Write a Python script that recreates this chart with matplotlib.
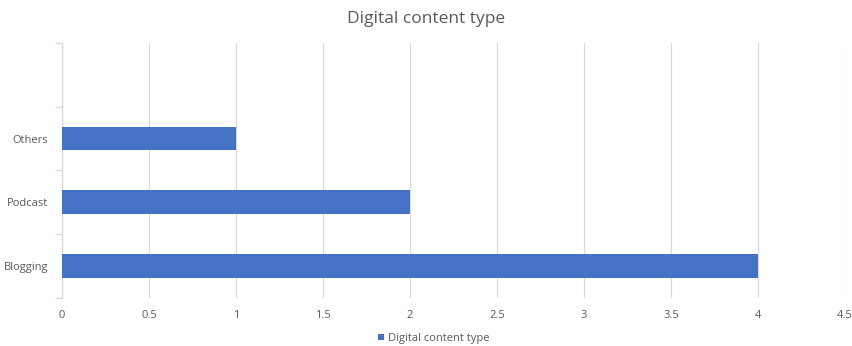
import numpy as np
import matplotlib.pyplot as plt

categories = ['Blogging', 'Podcast', 'Others', '']
values = [4, 2, 1, 0]
series_name = 'Digital content type'
x_ticks = [0, 0.5, 1, 1.5, 2, 2.5, 3, 3.5, 4, 4.5]
x_labels = ['0', '0.5', '1', '1.5', '2', '2.5', '3', '3.5', '4', '4.5']

plt.rcParams['font.family'] = ['Open Sans', 'DejaVu Sans']
grey = '#595959'
grid = '#d9d9d9'

fig = plt.figure(figsize=(8.52, 3.46), dpi=100)
ax = fig.add_axes([0.0728, 0.139, 0.9192, 0.737])

pos = np.arange(len(categories))
ax.barh(pos, values, height=0.37, color='#4472c4', label=series_name, zorder=3)

ax.set_xlim(0, 4.5)
ax.set_ylim(-0.5, len(categories) - 0.5)
ax.set_xticks(x_ticks)
ax.set_xticklabels(x_labels)
ax.set_yticks(pos)
ax.set_yticklabels(categories)
ax.set_yticks(np.arange(len(categories) + 1) - 0.5, minor=True)

ax.grid(axis='x', color=grid, lw=0.9, zorder=0)
for s in ['top', 'right', 'bottom']:
    ax.spines[s].set_visible(False)
ax.spines['left'].set_color(grid)
ax.spines['left'].set_linewidth(0.9)

ax.tick_params(axis='x', length=0, pad=9, labelsize=8, labelcolor=grey)
ax.tick_params(axis='y', which='major', length=0, pad=10, labelsize=8, labelcolor=grey)
ax.tick_params(axis='y', which='minor', length=5, color=grid, width=0.9)

fig.text(0.5, 0.945, series_name, ha='center', va='center', fontsize=12.5, color=grey)

ax.legend(loc='center', bbox_to_anchor=(0.475, -0.16), frameon=False,
          fontsize=8, labelcolor=grey, handlelength=0.5, handleheight=0.5,
          handletextpad=0.4, borderpad=0)

fig.savefig('out.png', dpi=100)
